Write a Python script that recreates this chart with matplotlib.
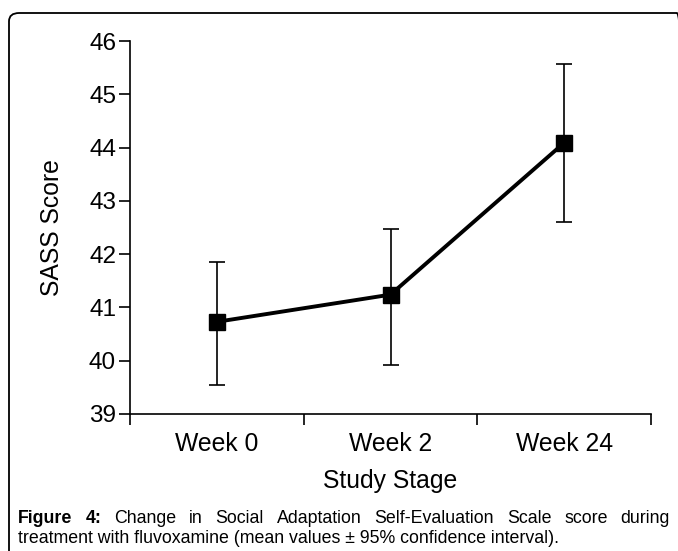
import matplotlib.pyplot as plt
from matplotlib.patches import FancyBboxPatch

plt.rcParams["font.family"] = ["Liberation Sans", "DejaVu Sans"]

stages = ["Week 0", "Week 2", "Week 24"]
means = [40.73, 41.24, 44.09]
ci_low = [39.54, 39.92, 42.61]
ci_high = [41.86, 42.47, 45.57]

W, H = 678, 551
fig = plt.figure(figsize=(W / 100, H / 100), dpi=100)

# rounded frame around the figure (cut off at right/bottom)
frame = FancyBboxPatch((9 / W, -0.05), 1.0, 1 - 13 / H + 0.05,
                       boxstyle="round,pad=0,rounding_size=0.015",
                       transform=fig.transFigure, fill=False,
                       edgecolor="black", linewidth=1.3)
fig.patches.append(frame)

ax = fig.add_axes([130 / W, 1 - 414 / H, (651 - 130) / W, (414 - 41) / H])

x = [i + 0.5 for i in range(len(stages))]
yerr = [[m - lo for m, lo in zip(means, ci_low)],
        [hi - m for m, hi in zip(means, ci_high)]]
ax.errorbar(x, means, yerr=yerr, fmt="none", ecolor="black",
            elinewidth=1.2, capsize=6, capthick=1.2, zorder=2)
ax.plot(x, means, color="black", linewidth=2.8, marker="s",
        markersize=11, zorder=3)

ax.set_xlim(0, 3)
ax.set_ylim(39, 46)
ax.set_xticks([0, 1, 2, 3])
ax.set_xticklabels([])
ax.set_xticks(x, minor=True)
ax.set_xticklabels(stages, minor=True, fontsize=17.8)
ax.tick_params(axis="x", which="minor", length=0, pad=13)
ax.tick_params(axis="x", which="major", length=8, width=1.2, direction="out")
ax.set_yticks(range(39, 47))
ax.tick_params(axis="y", length=8, width=1.2, labelsize=17.5, pad=2)

for s in ["top", "right"]:
    ax.spines[s].set_visible(False)
for s in ["left", "bottom"]:
    ax.spines[s].set_linewidth(1.2)

ax.set_xlabel("Study Stage", fontsize=17.8, labelpad=9)
ax.set_ylabel("SASS Score", fontsize=17.8, labelpad=18)

# caption, first line justified
fig.canvas.draw()
r = fig.canvas.get_renderer()
y1 = 1 - 523 / H
y2 = 1 - 543 / H
left_px, right_px = 18, 670
cap_size = 12.75
words = [("Figure", True), ("4:", True)] + [
    (w, False) for w in
    "Change in Social Adaptation Self-Evaluation Scale score during".split()]
arts = []
for w, bold in words:
    t = fig.text(0, y1, w, fontsize=cap_size, va="baseline",
                 fontweight="bold" if bold else "normal")
    arts.append(t)
widths = [a.get_window_extent(r).width for a in arts]
gap = (right_px - left_px - sum(widths)) / (len(words) - 1)
pos = left_px
for a, wd in zip(arts, widths):
    a.set_x(pos / W)
    pos += wd + gap
fig.text(left_px / W, y2,
         "treatment with fluvoxamine (mean values \u00b1 95% confidence interval).",
         fontsize=cap_size, va="baseline")

fig.savefig("out.png", dpi=100)
